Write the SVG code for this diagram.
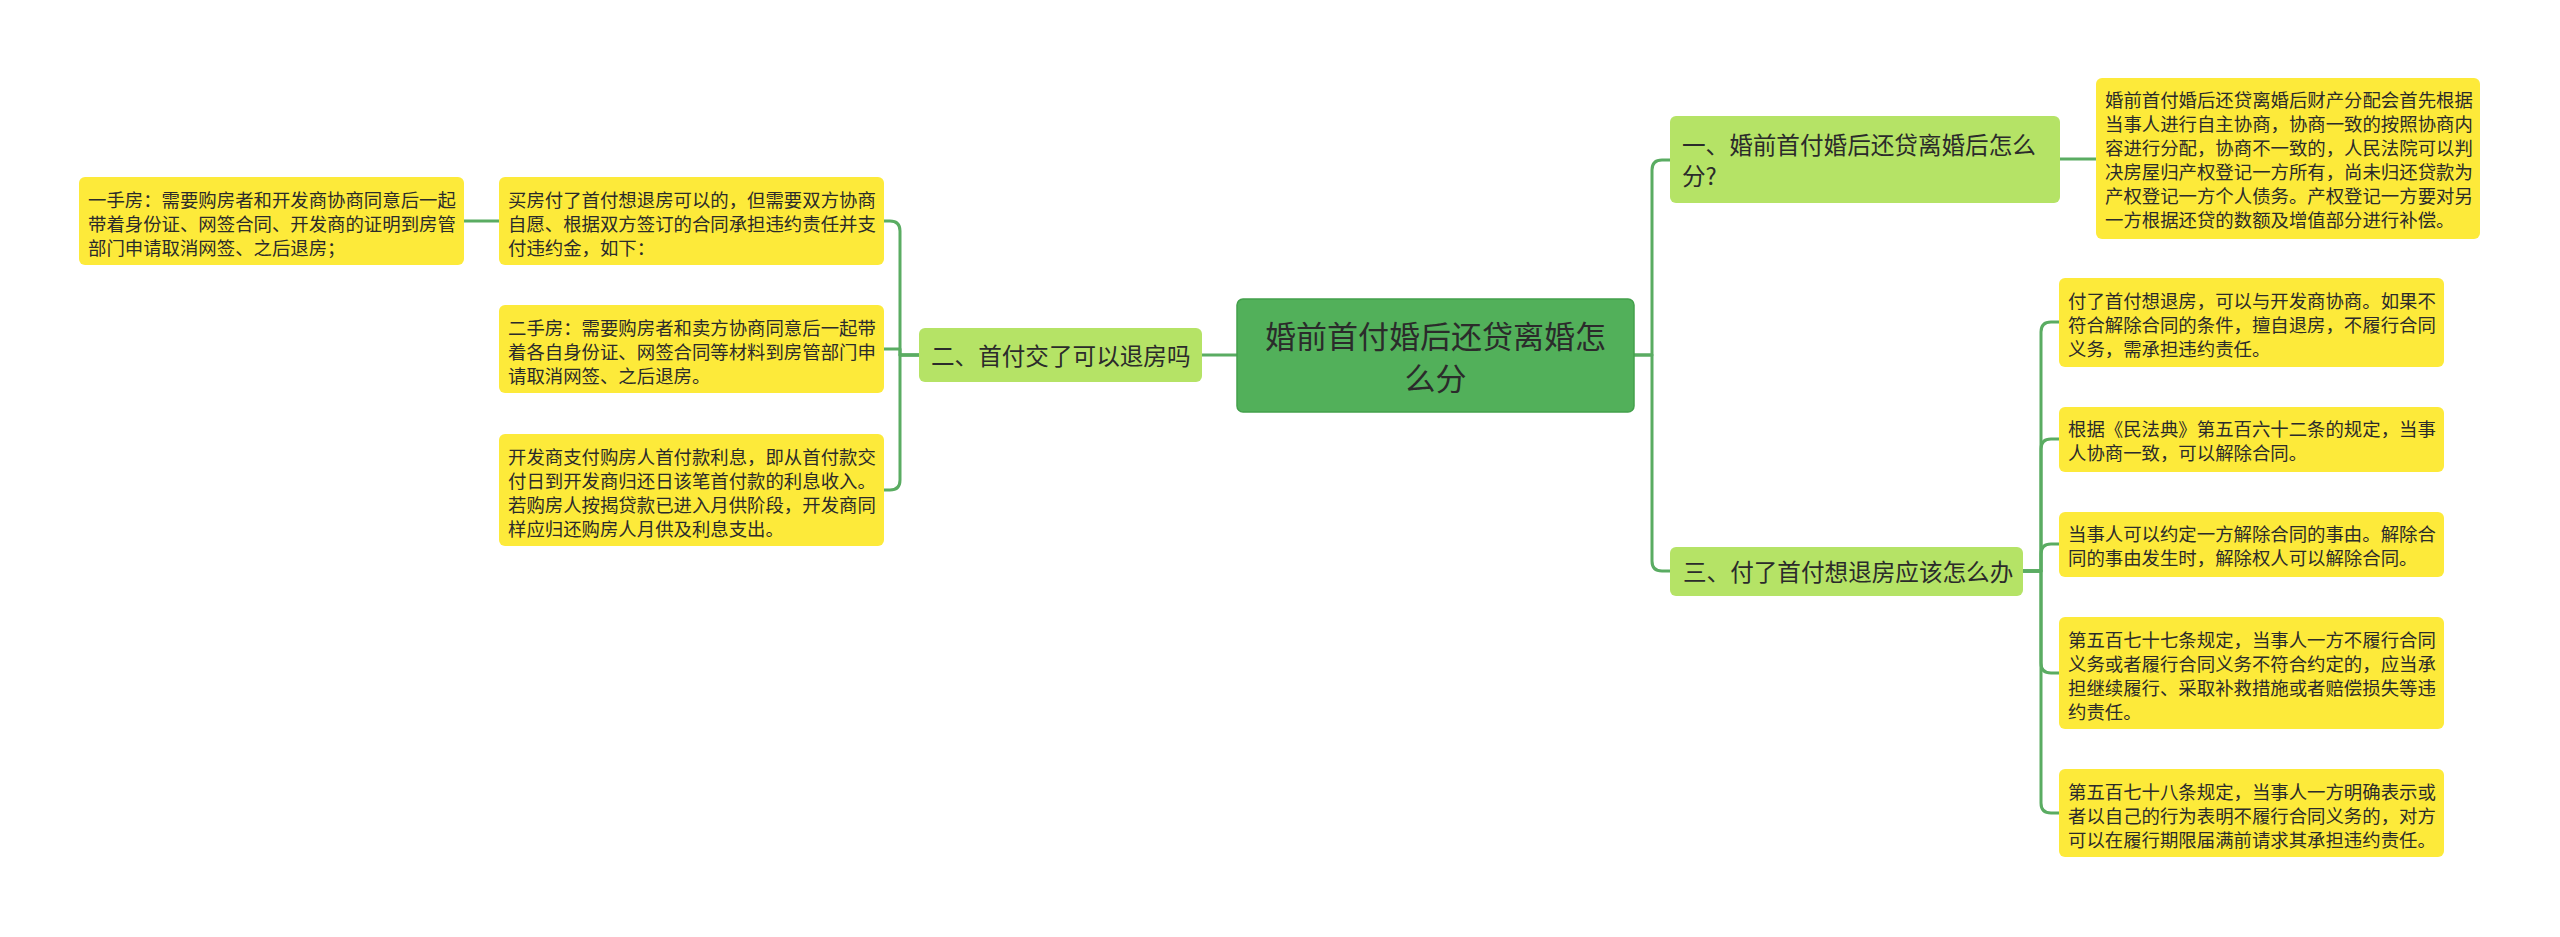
<svg xmlns="http://www.w3.org/2000/svg" width="2560" height="937" viewBox="0 0 2560 937">
<style>
.c{fill:none;stroke:#5aac62;stroke-width:3;stroke-linejoin:round}
.leaf{fill:#fdea3a}
.br{fill:#b5e366}
.root{fill:#52b05a;stroke:#43a04b;stroke-width:1.5}
text{font-family:"Noto Sans CJK SC","Noto Sans",sans-serif;fill:#2b2b2b;dominant-baseline:central}
.lt{font-size:18.4px}
.bt{font-size:23.6px}
.rt{font-size:31px;text-anchor:middle}
</style>
<rect width="2560" height="937" fill="#ffffff"/>
<g id="connectors">
<path class="c" d="M1237,355 H1202"/>
<path class="c" d="M919,355 H900 V231 Q900,221 890,221 H884"/>
<path class="c" d="M919,355 H900 V349 H884"/>
<path class="c" d="M919,355 H900 V480 Q900,490 890,490 H884"/>
<path class="c" d="M499,221 H464"/>
<path class="c" d="M1634,355 H1652 V170 Q1652,160 1662,160 H1670"/>
<path class="c" d="M1634,355 H1652 V561 Q1652,571 1662,571 H1670"/>
<path class="c" d="M2060,159 H2096"/>
<path class="c" d="M2023,571 H2041 V332 Q2041,322 2051,322 H2059"/>
<path class="c" d="M2023,571 H2041 V449 Q2041,439 2051,439 H2059"/>
<path class="c" d="M2023,571 H2041 V554 Q2041,544 2051,544 H2059"/>
<path class="c" d="M2023,571 H2041 V663 Q2041,673 2051,673 H2059"/>
<path class="c" d="M2023,571 H2041 V803 Q2041,813 2051,813 H2059"/>
</g>
<g id="root">
<rect class="root" x="1237" y="299" width="397" height="113" rx="6"/>
<text class="rt" x="1435.5" y="334">婚前首付婚后还贷离婚怎</text>
<text class="rt" x="1435.5" y="376">么分</text>
</g>
<g id="branch2">
<rect class="br" x="919" y="328" width="283" height="54" rx="6"/>
<text class="bt" x="931" y="355">二、首付交了可以退房吗</text>
</g>
<g id="branch1">
<rect class="br" x="1670" y="116" width="390" height="87" rx="6"/>
<text class="bt" x="1682" y="144">一、婚前首付婚后还贷离婚后怎么</text>
<text class="bt" x="1682" y="175">分?</text>
</g>
<g id="branch3">
<rect class="br" x="1670" y="547" width="353" height="49" rx="6"/>
<text class="bt" x="1683" y="571">三、付了首付想退房应该怎么办</text>
</g>
<g id="leaf-far-left">
<rect class="leaf" x="79" y="177" width="385" height="88" rx="6"/>
<text class="lt" x="88" y="199">一手房：需要购房者和开发商协商同意后一起</text>
<text class="lt" x="88" y="223">带着身份证、网签合同、开发商的证明到房管</text>
<text class="lt" x="88" y="247">部门申请取消网签、之后退房；</text>
</g>
<g id="leaf-l1">
<rect class="leaf" x="499" y="177" width="385" height="88" rx="6"/>
<text class="lt" x="508" y="199">买房付了首付想退房可以的，但需要双方协商</text>
<text class="lt" x="508" y="223">自愿、根据双方签订的合同承担违约责任并支</text>
<text class="lt" x="508" y="247">付违约金，如下：</text>
</g>
<g id="leaf-l2">
<rect class="leaf" x="499" y="305" width="385" height="88" rx="6"/>
<text class="lt" x="508" y="327">二手房：需要购房者和卖方协商同意后一起带</text>
<text class="lt" x="508" y="351">着各自身份证、网签合同等材料到房管部门申</text>
<text class="lt" x="508" y="375">请取消网签、之后退房。</text>
</g>
<g id="leaf-l3">
<rect class="leaf" x="499" y="434" width="385" height="112" rx="6"/>
<text class="lt" x="508" y="456">开发商支付购房人首付款利息，即从首付款交</text>
<text class="lt" x="508" y="480">付日到开发商归还日该笔首付款的利息收入。</text>
<text class="lt" x="508" y="504">若购房人按揭贷款已进入月供阶段，开发商同</text>
<text class="lt" x="508" y="528">样应归还购房人月供及利息支出。</text>
</g>
<g id="leaf-tr">
<rect class="leaf" x="2096" y="78" width="384" height="161" rx="6"/>
<text class="lt" x="2105" y="99">婚前首付婚后还贷离婚后财产分配会首先根据</text>
<text class="lt" x="2105" y="123">当事人进行自主协商，协商一致的按照协商内</text>
<text class="lt" x="2105" y="147">容进行分配，协商不一致的，人民法院可以判</text>
<text class="lt" x="2105" y="171">决房屋归产权登记一方所有，尚未归还贷款为</text>
<text class="lt" x="2105" y="195">产权登记一方个人债务。产权登记一方要对另</text>
<text class="lt" x="2105" y="219">一方根据还贷的数额及增值部分进行补偿。</text>
</g>
<g id="leaf-r1">
<rect class="leaf" x="2059" y="278" width="385" height="89" rx="6"/>
<text class="lt" x="2068" y="300">付了首付想退房，可以与开发商协商。如果不</text>
<text class="lt" x="2068" y="324">符合解除合同的条件，擅自退房，不履行合同</text>
<text class="lt" x="2068" y="348">义务，需承担违约责任。</text>
</g>
<g id="leaf-r2">
<rect class="leaf" x="2059" y="407" width="385" height="65" rx="6"/>
<text class="lt" x="2068" y="428">根据《民法典》第五百六十二条的规定，当事</text>
<text class="lt" x="2068" y="452">人协商一致，可以解除合同。</text>
</g>
<g id="leaf-r3">
<rect class="leaf" x="2059" y="512" width="385" height="65" rx="6"/>
<text class="lt" x="2068" y="533">当事人可以约定一方解除合同的事由。解除合</text>
<text class="lt" x="2068" y="557">同的事由发生时，解除权人可以解除合同。</text>
</g>
<g id="leaf-r4">
<rect class="leaf" x="2059" y="617" width="385" height="112" rx="6"/>
<text class="lt" x="2068" y="639">第五百七十七条规定，当事人一方不履行合同</text>
<text class="lt" x="2068" y="663">义务或者履行合同义务不符合约定的，应当承</text>
<text class="lt" x="2068" y="687">担继续履行、采取补救措施或者赔偿损失等违</text>
<text class="lt" x="2068" y="711">约责任。</text>
</g>
<g id="leaf-r5">
<rect class="leaf" x="2059" y="769" width="385" height="88" rx="6"/>
<text class="lt" x="2068" y="791">第五百七十八条规定，当事人一方明确表示或</text>
<text class="lt" x="2068" y="815">者以自己的行为表明不履行合同义务的，对方</text>
<text class="lt" x="2068" y="839">可以在履行期限届满前请求其承担违约责任。</text>
</g>
</svg>
